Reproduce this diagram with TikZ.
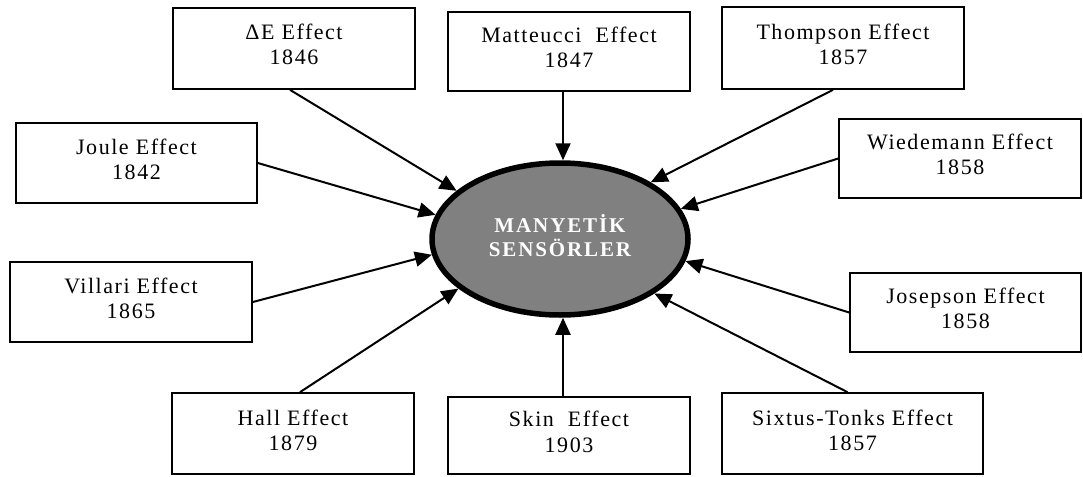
\documentclass[tikz,border=0pt]{standalone}
\usepackage{fontspec}
\setmainfont{Liberation Serif}[LetterSpace=9]
\newfontfamily\boxfont{Liberation Serif}[LetterSpace=7]
\usetikzlibrary{arrows.meta,calc,shapes.geometric}
\definecolor{ellgray}{HTML}{808080}
\newcommand\lowstrut{\rule[-7.5pt]{0pt}{7.5pt}}
\tikzset{
  effbox/.style={draw, line width=1.7pt, inner sep=0pt, align=center,
    font=\boxfont\fontsize{22}{25}\selectfont},
  arr/.style={line width=2pt, -{Triangle[length=17pt,width=15pt]}},
}
\begin{document}
\begin{tikzpicture}[x=1pt,y=-1pt]
\useasboundingbox (0,0) rectangle (1083,476);
% centre
\node[ellipse, draw, line width=5.5pt, fill=ellgray, minimum width=256pt, minimum height=152pt,
  inner sep=0pt, text=white, align=center, font=\bfseries\fontsize{21}{24}\selectfont]
  (ell) at (560,239) {MANYETİK\\SENSÖRLER\lowstrut};
% boxes
\node[effbox, minimum width=242pt, minimum height=81pt] (de)  at (294,48.5)  {ΔE Effect\\1846\lowstrut};
\node[effbox, minimum width=242pt, minimum height=79pt] (mat) at (569,51.5)  {Matteucci~~Effect\\1847\lowstrut};
\node[effbox, minimum width=242pt, minimum height=82pt] (tho) at (843,48)    {Thompson Effect\\1857\lowstrut};
\node[effbox, minimum width=241pt, minimum height=80pt] (jou) at (136.5,163) {Joule Effect\\1842\lowstrut};
\node[effbox, minimum width=242pt, minimum height=79pt] (wie) at (960,158.5) {Wiedemann Effect\\1858\lowstrut};
\node[effbox, minimum width=242pt, minimum height=80pt] (vil) at (131,302)   {Villari Effect\\1865\lowstrut};
\node[effbox, minimum width=231pt, minimum height=79pt] (jos) at (965.5,312.5) {Josepson Effect\\1858\lowstrut};
\node[effbox, minimum width=242pt, minimum height=81pt] (hal) at (293,433.5) {Hall Effect\\1879\lowstrut};
\node[effbox, minimum width=242pt, minimum height=77pt] (ski) at (569,435.5) {Skin~~Effect\\1903\lowstrut};
\node[effbox, minimum width=261pt, minimum height=81pt] (six) at (852.5,433.5) {Sixtus-Tonks Effect\\1857\lowstrut};
% connectors
\coordinate (ms) at ([xshift=-6pt]mat.south);
\coordinate (ss) at ([xshift=-6pt]ski.north);
\draw[arr] ([xshift=-4pt]de.south) -- (ell.155);
\draw[arr] (ms) -- (ms |- ell.north);
\draw[arr] ([xshift=-10pt]tho.south) -- (ell.32);
\draw[arr] (jou.east) -- (ell.169);
\draw[arr] (wie.west) -- (ell.14);
\draw[arr] (vil.east) -- (ell.187);
\draw[arr] (jos.west) -- (ell.350);
\draw[arr] ([xshift=7pt]hal.north) -- (ell.206);
\draw[arr] (ss) -- (ss |- ell.south);
\draw[arr] ([xshift=-5pt]six.north) -- (ell.330);
\end{tikzpicture}
\end{document}
